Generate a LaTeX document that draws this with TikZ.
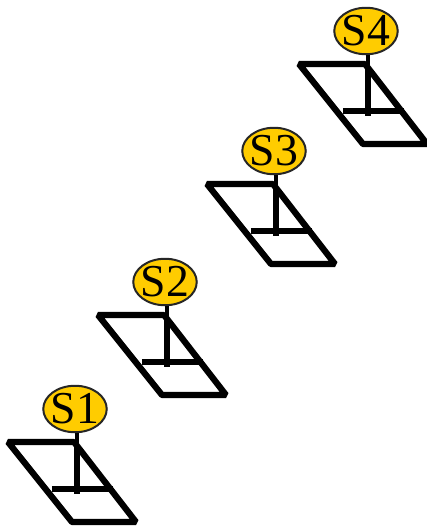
\documentclass[tikz,border=0pt]{standalone}
\usepackage{fontspec}
\setmainfont{Liberation Serif}
\usetikzlibrary{shapes.geometric}
\definecolor{sensorgold}{HTML}{FFCC00}
\tikzset{
  sensor/.style={draw=black!85, line width=0.04cm, fill=sensorgold, ellipse, inner sep=-1pt,
    minimum width=1.27cm, minimum height=0.93cm, font=\fontsize{26}{26}\selectfont},
  panel/.style={draw=black, line width=0.125cm, line join=bevel},
  pole/.style={draw=black, line width=0.115cm},
  neck/.style={draw=black, line width=0.07cm}
}
\begin{document}
\begin{tikzpicture}[x=0.02cm, y=-0.02cm]
  \useasboundingbox (0, 0) rectangle (427, 529);
  \foreach \n/\x/\y in {1/75/409, 2/165/282, 3/274/151, 4/366/31} {
    \begin{scope}[shift={(\x, \y)}]
      \coordinate (tl\n) at (-67, 33);
      \coordinate (tr\n) at (-1, 33);
      \coordinate (br\n) at (61, 113);
      \coordinate (bl\n) at (-3, 113);
      \coordinate (cl\n) at (-23, 80);
      \coordinate (cr\n) at (38, 80);
      \coordinate (top\n) at (2, 36);
      \coordinate (foot\n) at (2, 85);
      \draw[panel] (tl\n) -- (tr\n) -- (br\n) -- (bl\n) -- cycle;
      \draw[panel] (cl\n) -- (cr\n);
      \draw[pole] (top\n) -- (foot\n);
      \node[sensor] (S\n) at (0, 0) {S\n};
      \draw[neck] (S\n.south -| top\n) -- (top\n);
    \end{scope}
  }
\end{tikzpicture}
\end{document}
